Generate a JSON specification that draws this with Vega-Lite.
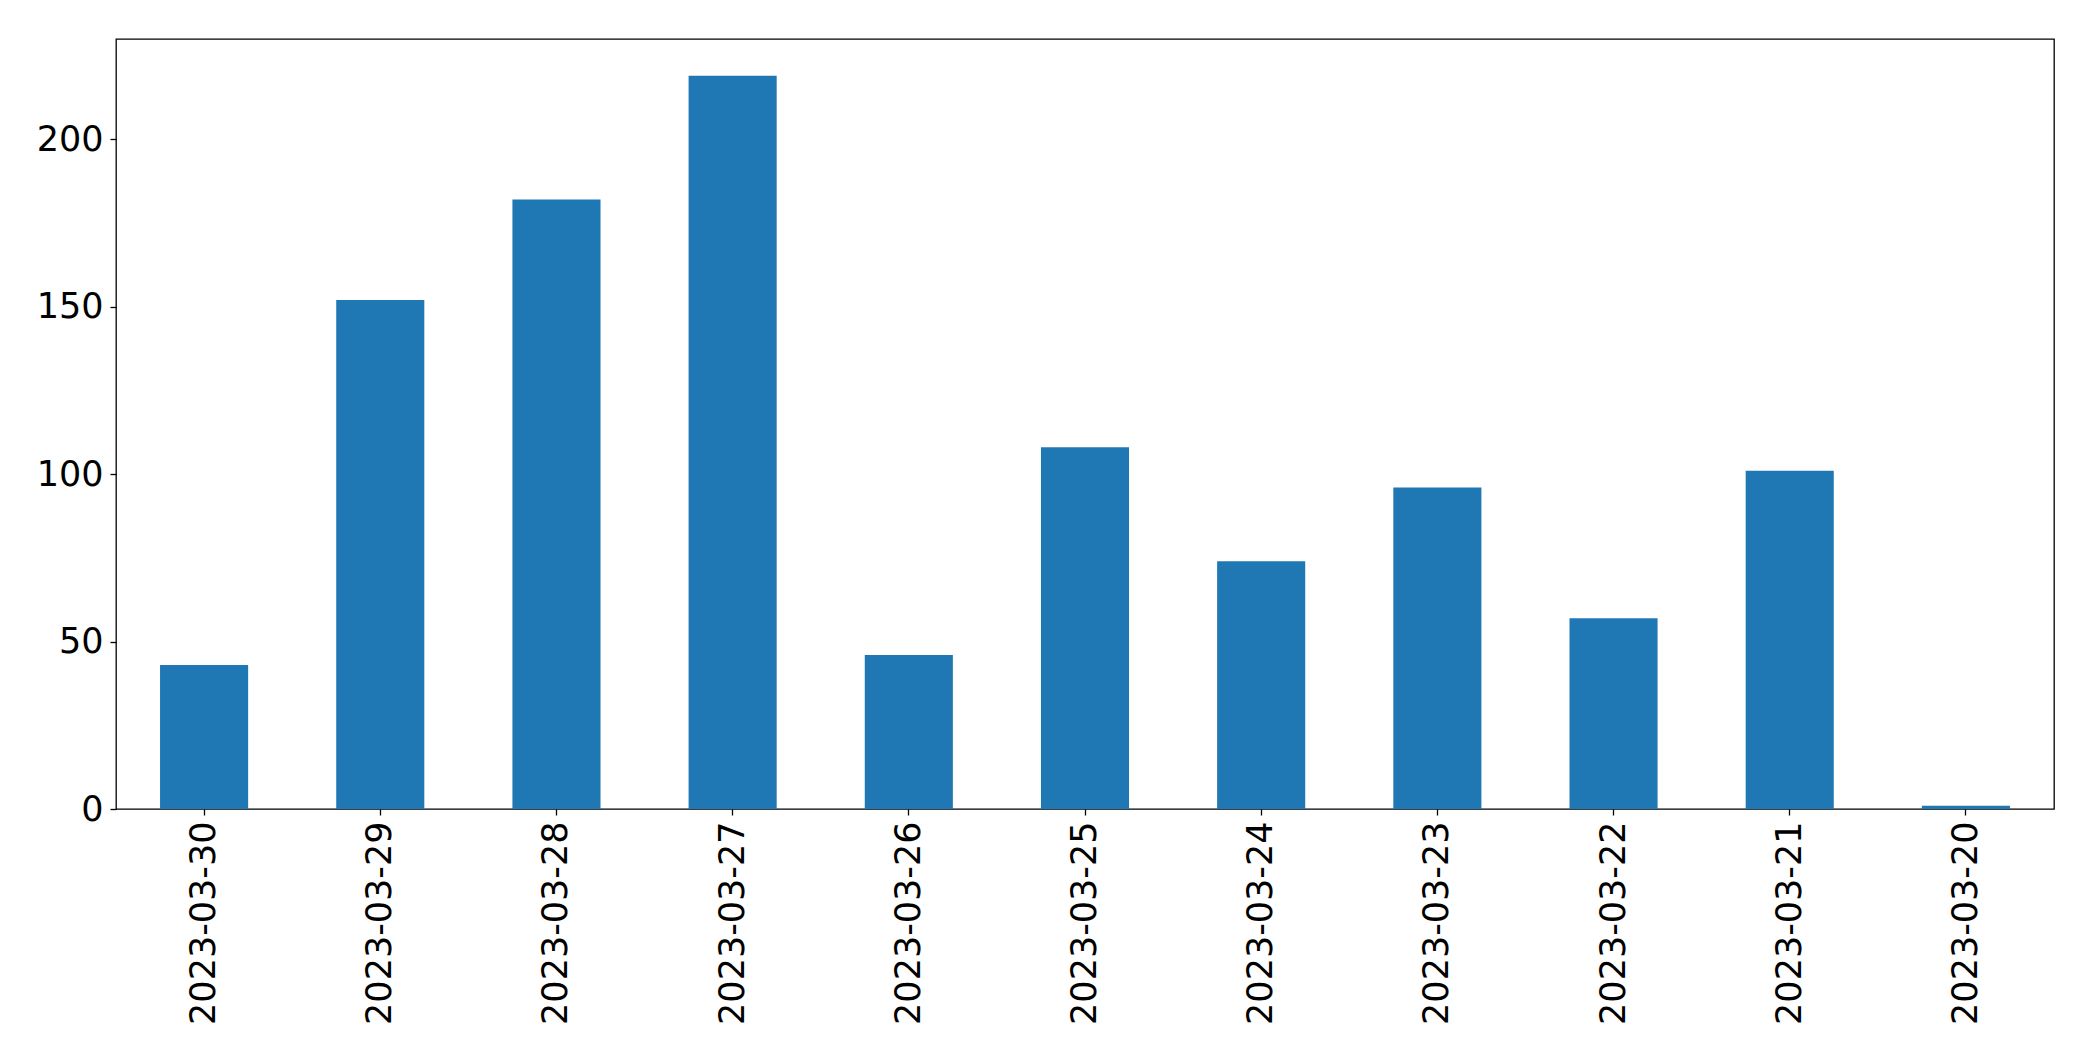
{
  "$schema": "https://vega.github.io/schema/vega-lite/v6.json",
  "width": 1938,
  "height": 770,
  "autosize": {"type": "none"},
  "padding": {"left": 116, "top": 39, "right": 39, "bottom": 252},
  "background": "white",
  "config": {
    "view": {"stroke": "#000000", "strokeWidth": 1.3},
    "font": "DejaVu Sans",
    "axis": {
      "labelFont": "DejaVu Sans",
      "labelFontSize": 35,
      "labelColor": "#000000",
      "labelLimit": 0,
      "tickColor": "#000000",
      "tickSize": 6,
      "tickWidth": 1.3,
      "domain": false,
      "grid": false,
      "title": null
    }
  },
  "data": {
    "values": [
      {"date": "2023-03-30", "count": 43},
      {"date": "2023-03-29", "count": 152},
      {"date": "2023-03-28", "count": 182},
      {"date": "2023-03-27", "count": 219},
      {"date": "2023-03-26", "count": 46},
      {"date": "2023-03-25", "count": 108},
      {"date": "2023-03-24", "count": 74},
      {"date": "2023-03-23", "count": 96},
      {"date": "2023-03-22", "count": 57},
      {"date": "2023-03-21", "count": 101},
      {"date": "2023-03-20", "count": 1}
    ]
  },
  "mark": {"type": "bar", "color": "#1f77b4"},
  "encoding": {
    "x": {
      "field": "date",
      "type": "nominal",
      "sort": null,
      "scale": {"paddingInner": 0.5, "paddingOuter": 0.25},
      "axis": {"labelAngle": -90, "labelPadding": 6}
    },
    "y": {
      "field": "count",
      "type": "quantitative",
      "scale": {"domain": [0, 229.95], "nice": false, "zero": true},
      "axis": {"values": [0, 50, 100, 150, 200], "labelPadding": 7}
    }
  }
}
